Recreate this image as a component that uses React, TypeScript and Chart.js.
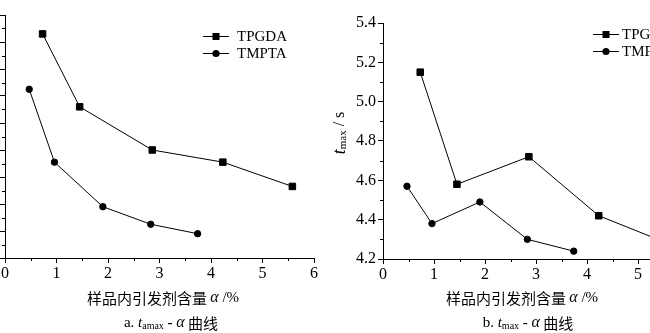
import React, { useEffect, useRef } from "react";
import { Chart, registerables } from "chart.js";

Chart.register(...registerables);

// Initiator content α (%) for each sample series
const alphaTPGDA = [0.73, 1.45, 2.86, 4.23, 5.58];
const alphaTMPTA = [0.47, 0.96, 1.9, 2.83, 3.74];

// Panel a: t_amax values
const tamaxTPGDA = [4.86, 4.32, 4.0, 3.91, 3.73];
const tamaxTMPTA = [4.45, 3.91, 3.58, 3.45, 3.38];

// Panel b: t_max values (s)
const tmaxTPGDA = [5.15, 4.58, 4.72, 4.42, 4.28];
const tmaxTMPTA = [4.57, 4.38, 4.49, 4.3, 4.24];

const seriesNames = ["TPGDA", "TMPTA"];
const xTitleText = "样品内引发剂含量";
const curveText = "曲线";

const SERIF = '"Liberation Serif", "Times New Roman", serif';
const CJK = '"Noto Sans CJK SC", sans-serif';

type Run = { text: string; font: string; dy?: number };

function drawRuns(ctx: CanvasRenderingContext2D, runs: Run[], cx: number, cy: number) {
  let total = 0;
  const widths = runs.map((r) => {
    ctx.font = r.font;
    const w = ctx.measureText(r.text).width;
    total += w;
    return w;
  });
  let x = cx - total / 2;
  ctx.textAlign = "left";
  ctx.textBaseline = "middle";
  runs.forEach((r, i) => {
    ctx.font = r.font;
    ctx.fillText(r.text, x, cy + (r.dy || 0));
    x += widths[i];
  });
}

type DecorCfg = {
  legendX: number; // left end of legend symbol line (canvas coords)
  legendY: number[];
  legendGap: number;
  titleX: number;
  captionX: number;
  captionLetter: string;
  captionSub: string;
  yTitle?: { x: number; y: number };
};

function makeDecor(cfg: DecorCfg) {
  return {
    id: "decor",
    afterDraw(chart: any) {
      const ctx: CanvasRenderingContext2D = chart.ctx;
      const xs = chart.scales.x;
      const ys = chart.scales.y;
      ctx.save();
      ctx.strokeStyle = "#000";
      ctx.fillStyle = "#000";
      ctx.lineWidth = 1;

      // minor ticks between the major ones
      for (let i = 0; i < xs.ticks.length - 1; i++) {
        const v = (xs.ticks[i].value + xs.ticks[i + 1].value) / 2;
        const p = Math.round(xs.getPixelForValue(v)) + 0.5;
        ctx.beginPath();
        ctx.moveTo(p, xs.top);
        ctx.lineTo(p, xs.top + 3);
        ctx.stroke();
      }
      for (let i = 0; i < ys.ticks.length - 1; i++) {
        const v = (ys.ticks[i].value + ys.ticks[i + 1].value) / 2;
        const p = Math.round(ys.getPixelForValue(v)) + 0.5;
        ctx.beginPath();
        ctx.moveTo(ys.right, p);
        ctx.lineTo(ys.right - 3, p);
        ctx.stroke();
      }

      // legend
      seriesNames.forEach((name, i) => {
        const y = cfg.legendY[i];
        const x0 = cfg.legendX;
        const x1 = x0 + 26;
        const mx = (x0 + x1) / 2;
        ctx.beginPath();
        ctx.moveTo(x0, y + 0.5);
        ctx.lineTo(x1, y + 0.5);
        ctx.stroke();
        if (i === 0) {
          ctx.fillRect(mx - 3.5, y - 3, 7, 7);
        } else {
          ctx.beginPath();
          ctx.arc(mx, y + 0.5, 3.6, 0, Math.PI * 2);
          ctx.fill();
        }
        ctx.font = `15px ${SERIF}`;
        ctx.textAlign = "left";
        ctx.textBaseline = "middle";
        ctx.fillText(name, x1 + cfg.legendGap, y + 1);
      });

      // x-axis title
      drawRuns(
        ctx,
        [
          { text: xTitleText + " ", font: `15px ${CJK}` },
          { text: "α", font: `italic 16px ${SERIF}` },
          { text: " /%", font: `15px ${SERIF}` },
        ],
        cfg.titleX,
        298
      );

      // panel caption
      drawRuns(
        ctx,
        [
          { text: cfg.captionLetter + " ", font: `15px ${SERIF}` },
          { text: "t", font: `italic 15px ${SERIF}` },
          { text: cfg.captionSub, font: `10px ${SERIF}`, dy: 3 },
          { text: " - ", font: `bold 15px ${SERIF}` },
          { text: "α", font: `italic 16px ${SERIF}` },
          { text: " " + curveText, font: `15px ${CJK}` },
        ],
        cfg.captionX,
        323
      );

      // rotated y-axis title
      if (cfg.yTitle) {
        ctx.save();
        ctx.translate(cfg.yTitle.x, cfg.yTitle.y);
        ctx.rotate(-Math.PI / 2);
        drawRuns(
          ctx,
          [
            { text: "t", font: `italic 18px ${SERIF}` },
            { text: "max", font: `11px ${SERIF}`, dy: 3 },
            { text: " / s", font: `16px ${SERIF}` },
          ],
          0,
          0
        );
        ctx.restore();
      }
      ctx.restore();
    },
  };
}

function buildDatasets(yA: number[], yB: number[]) {
  return [
    {
      label: seriesNames[0],
      data: alphaTPGDA.map((x, i) => ({ x, y: yA[i] })),
      borderColor: "#000",
      backgroundColor: "#000",
      borderWidth: 1,
      pointStyle: "rect",
      pointRadius: 4.6,
      pointBorderWidth: 1,
      tension: 0,
    },
    {
      label: seriesNames[1],
      data: alphaTMPTA.map((x, i) => ({ x, y: yB[i] })),
      borderColor: "#000",
      backgroundColor: "#000",
      borderWidth: 1,
      pointStyle: "circle",
      pointRadius: 3.2,
      pointBorderWidth: 1,
      tension: 0,
    },
  ];
}

type PanelProps = {
  left: number;
  width: number;
  yData: [number[], number[]];
  yMin: number;
  yMax: number;
  yAxisWidth: number;
  xAxisHeight: number;
  padding: { top: number; right: number };
  decor: DecorCfg;
};

function Panel(props: PanelProps) {
  const ref = useRef<HTMLCanvasElement | null>(null);
  useEffect(() => {
    if (!ref.current) return;
    const axisCommon = {
      border: { display: true, color: "#000", width: 1 },
      grid: {
        drawOnChartArea: false,
        drawTicks: true,
        tickLength: 5,
        color: "#000",
        tickColor: "#000",
        tickWidth: 1,
      },
    };
    const chart = new Chart(ref.current, {
      type: "line",
      data: { datasets: buildDatasets(props.yData[0], props.yData[1]) as any },
      options: {
        animation: false,
        responsive: false,
        devicePixelRatio: 1,
        layout: { padding: { top: props.padding.top, right: props.padding.right, bottom: 0, left: 0 } },
        plugins: { legend: { display: false }, tooltip: { enabled: false } },
        scales: {
          x: {
            type: "linear",
            min: 0,
            max: 6,
            ...axisCommon,
            ticks: {
              stepSize: 1,
              color: "#000",
              padding: 1,
              maxRotation: 0,
              font: { family: SERIF, size: 16 },
            },
            afterFit: (s: any) => {
              s.height = props.xAxisHeight;
            },
          },
          y: {
            type: "linear",
            min: props.yMin,
            max: props.yMax,
            ...axisCommon,
            ticks: {
              stepSize: 0.2,
              color: "#000",
              padding: 2,
              font: { family: SERIF, size: 16 },
              callback: (v: any) => Number(v).toFixed(1),
            },
            afterFit: (s: any) => {
              s.width = props.yAxisWidth;
            },
          },
        },
      } as any,
      plugins: [makeDecor(props.decor)],
    });
    return () => chart.destroy();
  }, []);
  return (
    <canvas
      ref={ref}
      width={props.width}
      height={333}
      style={{ position: "absolute", left: props.left, top: 0, width: props.width, height: 333 }}
    />
  );
}

export default function App() {
  return (
    <div
      style={{
        position: "fixed",
        left: 0,
        top: 0,
        width: 650,
        height: 333,
        overflow: "hidden",
        background: "#fff",
      }}
    >
      <Panel
        left={-60}
        width={380}
        yData={[tamaxTPGDA, tamaxTMPTA]}
        yMin={3.2}
        yMax={5.0}
        yAxisWidth={65}
        xAxisHeight={75}
        padding={{ top: 15, right: 6 }}
        decor={{
          legendX: 263,
          legendY: [36, 53],
          legendGap: 8,
          titleX: 223,
          captionX: 231,
          captionLetter: "a.",
          captionSub: "amax",
        }}
      />
      <Panel
        left={320}
        width={400}
        yData={[tmaxTPGDA, tmaxTMPTA]}
        yMin={4.2}
        yMax={5.4}
        yAxisWidth={63}
        xAxisHeight={74}
        padding={{ top: 23, right: 31 }}
        decor={{
          legendX: 273,
          legendY: [34, 51],
          legendGap: 3,
          titleX: 202,
          captionX: 208,
          captionLetter: "b.",
          captionSub: "max",
          yTitle: { x: 20, y: 133 },
        }}
      />
    </div>
  );
}
